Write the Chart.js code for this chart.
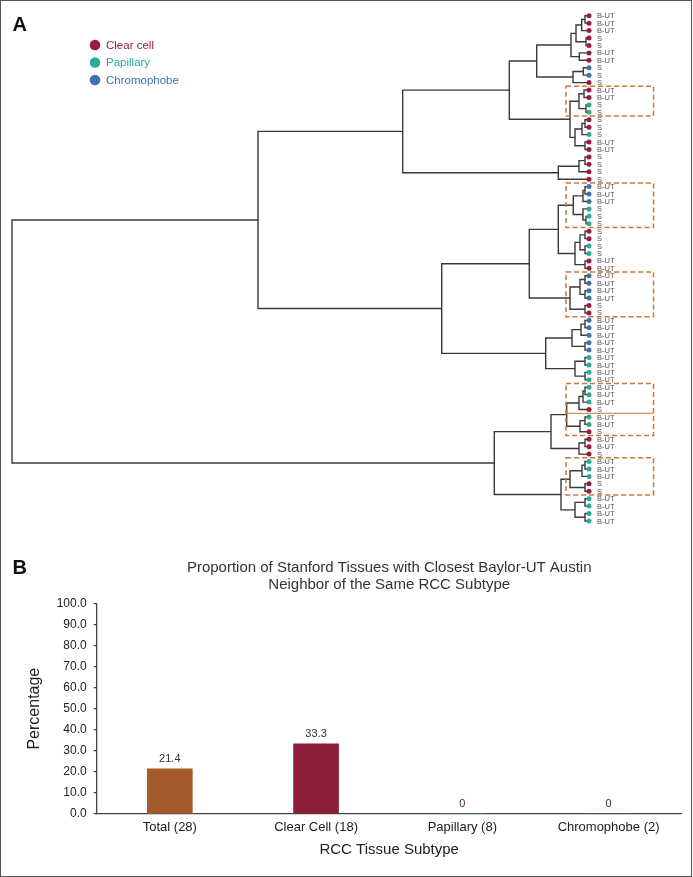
<!DOCTYPE html>
<html>
<head>
<meta charset="utf-8">
<script src="https://cdn.jsdelivr.net/npm/chart.js@4.4.1/dist/chart.umd.min.js"></script>
<style>
  html, body { margin: 0; padding: 0; background: #fff; }
  #wrap { position: relative; width: 693px; height: 877px; overflow: hidden; }
  #dendro { position: absolute; left: 0; top: 0; }
  #bars { position: absolute; left: 0; top: 545px; }
  #frame { position: absolute; left: 0; top: 0; width: 692px; height: 877px; box-sizing: border-box;
           border: 1.5px solid #555; pointer-events: none; }
</style>
</head>
<body>
<div id="wrap">
  <canvas id="dendro" width="693" height="545"></canvas>
  <canvas id="bars" width="693" height="332"></canvas>
  <div id="frame"></div>
</div>
<script>
const FONT = "'Liberation Sans', Arial, Helvetica, sans-serif";
Chart.defaults.font.family = FONT;
Chart.defaults.color = "#333";
Chart.defaults.animation = false;

// ---- panel A: leaves, top to bottom ----
const subtypeNames = ["Clear cell", "Papillary", "Chromophobe"];
const subtypeColors = ["#9b1c3c", "#2bab97", "#3b73ae"];

const leafSite = [
  "B-UT", "B-UT", "B-UT", "S", "S", "B-UT", "B-UT", "S", "S", "S",
  "B-UT", "B-UT", "S", "S", "S", "S", "S", "B-UT", "B-UT", "S",
  "S", "S", "S", "B-UT", "B-UT", "B-UT", "S", "S", "S", "S",
  "S", "S", "S", "B-UT", "B-UT", "B-UT", "B-UT", "B-UT", "B-UT", "S",
  "S", "B-UT", "B-UT", "B-UT", "B-UT", "B-UT", "B-UT", "B-UT", "B-UT", "B-UT",
  "B-UT", "B-UT", "B-UT", "S", "B-UT", "B-UT", "S", "B-UT", "B-UT", "S",
  "B-UT", "B-UT", "B-UT", "S", "S", "B-UT", "B-UT", "B-UT", "B-UT"
];
// 0 = clear cell, 1 = papillary, 2 = chromophobe
const leafType = [
  0, 0, 0, 0, 0, 0, 0, 2, 2, 0,
  0, 0, 1, 1, 0, 0, 1, 0, 0, 0,
  0, 0, 0, 2, 2, 2, 1, 1, 1, 0,
  0, 1, 1, 0, 0, 2, 2, 2, 2, 0,
  0, 2, 2, 2, 2, 2, 1, 1, 1, 1,
  1, 1, 1, 0, 1, 1, 0, 0, 0, 0,
  1, 1, 1, 0, 0, 1, 1, 1, 1
];

// clusters: [height, left, right], numbers are leaf positions (1-based)
const g1to7 = [18, [13, [7.3, [4, 1, 2], 3], [3, 4, 5]], [9.7, 6, 7]];
const g8to10 = [16, [5.7, 8, 9], 10];
const g11to19 = [19, [10, [5, 11, 12], [3, 13, 14]], [14, [7, [4, 15, 16], 17], [4, 18, 19]]];
const g20to23 = [30.7, [10, [4, 20, 21], 22], 23];
const g24to35 = [30.7, [15.7, [6, [4, 24, 25], 26], [6, 27, [3, 28, 29]]],
                       [14, [9, [4, 30, 31], [4, 32, 33]], [4, 34, 35]]];
const g36to41 = [19, [9, [4, 36, 37], [4, 38, 39]], [4, 40, 41]];
const g42to50 = [43.3, [17, [8, [4, 42, 43], 44], [4, 45, 46]], [14, [4, 47, 48], [4, 49, 50]]];
const g51to60 = [38, [22.3, [10, [6, [4, 51, 52], 53], 54], [9, [4, 55, 56], 57]], [10, [4, 58, 59], 60]];
const g61to69 = [28, [19, [7, [4, 61, 62], 63], [4, 64, 65]], [14, [4, 66, 67], [4, 68, 69]]];

const upperBranch = [331, [186.3, [79.7, [52.3, g1to7, g8to10], g11to19], g20to23],
                          [147.3, [59.7, g24to35, g36to41], g42to50]];
const lowerBranch = [94.7, g51to60, g61to69];
const tree = [577, upperBranch, lowerBranch];

// highlighted leaf groups (first, last)
const boxedLeaves = [[11, 14], [24, 29], [36, 41], [51, 57], [61, 65]];
const splitLines = [54.5];

// ---- panel B ----
const subtypeLabels = ["Total (28)", "Clear Cell (18)", "Papillary (8)", "Chromophobe (2)"];
const sameSubtypePct = [21.4, 33.3, 0, 0];
const barColors = ["#a55a2c", "#8e1e3a", "#2bab97", "#3b73ae"];

// build dendrogram links from the tree
const links = [];
function walk(node) {
  if (typeof node === "number") return { h: 0, y: node - 1 };
  const [h, a, b] = node;
  const l = walk(a), r = walk(b);
  links.push([{ x: l.h, y: l.y }, { x: h, y: l.y }, { x: h, y: r.y }, { x: r.h, y: r.y }]);
  return { h: h, y: (l.y + r.y) / 2 };
}
walk(tree);

const leafDots = {
  data: leafSite.map((s, i) => ({ x: 0, y: i })),
  showLine: false,
  pointRadius: 2.5,
  pointBorderWidth: 0,
  pointBackgroundColor: leafType.map(t => subtypeColors[t]),
  clip: false,
};
const linkSets = links.map(pts => ({
  data: pts,
  showLine: true,
  borderColor: "#3a3a3a",
  borderWidth: 1.4,
  pointRadius: 0,
  tension: 0,
  clip: false,
}));

const dendroDecor = {
  id: "dendroDecor",
  afterDatasetsDraw(chart) {
    const { ctx } = chart;
    const xs = chart.scales.x, ys = chart.scales.y;
    ctx.save();
    // leaf labels
    ctx.fillStyle = "#555";
    ctx.font = "7.5px " + FONT;
    ctx.textBaseline = "middle";
    ctx.textAlign = "left";
    leafSite.forEach((s, i) => {
      ctx.fillText(s, xs.getPixelForValue(0) + 8, ys.getPixelForValue(i) + 0.5);
    });
    // boxes
    const bx1 = xs.getPixelForValue(23), bx2 = xs.getPixelForValue(-64.5);
    ctx.strokeStyle = "#d2733b";
    ctx.lineWidth = 1.5;
    ctx.setLineDash([5, 3]);
    boxedLeaves.forEach(([a, b]) => {
      const y1 = ys.getPixelForValue(a - 1.5), y2 = ys.getPixelForValue(b - 0.5);
      ctx.strokeRect(bx1, y1, bx2 - bx1, y2 - y1);
    });
    ctx.setLineDash([]);
    ctx.lineWidth = 1.2;
    splitLines.forEach(v => {
      const y = ys.getPixelForValue(v - 1);
      ctx.beginPath(); ctx.moveTo(bx1, y); ctx.lineTo(bx2, y); ctx.stroke();
    });
    // legend
    ctx.font = "11.5px " + FONT;
    subtypeNames.forEach((n, i) => {
      const y = 45 + i * 17.5;
      ctx.fillStyle = subtypeColors[i];
      ctx.beginPath(); ctx.arc(95, y, 5.3, 0, Math.PI * 2); ctx.fill();
      ctx.fillText(n, 106, y + 0.5);
    });
    // panel letter
    ctx.fillStyle = "#111";
    ctx.font = "bold 20px " + FONT;
    ctx.textBaseline = "alphabetic";
    ctx.fillText("A", 12.5, 31);
    ctx.restore();
  }
};

new Chart(document.getElementById("dendro"), {
  type: "scatter",
  data: { datasets: [leafDots, ...linkSets] },
  options: {
    responsive: false,
    events: [],
    layout: { padding: { left: 12, right: 104, top: 8.3, bottom: 16.6 } },
    scales: {
      x: { type: "linear", reverse: true, min: 0, max: 577, display: false },
      y: { type: "linear", reverse: true, min: -1, max: 69, display: false },
    },
    plugins: { legend: { display: false }, tooltip: { enabled: false } },
  },
  plugins: [dendroDecor],
});

const barDecor = {
  id: "barDecor",
  afterDatasetsDraw(chart) {
    const { ctx } = chart;
    const meta = chart.getDatasetMeta(0);
    ctx.save();
    ctx.fillStyle = "#333";
    ctx.font = "11px " + FONT;
    ctx.textAlign = "center";
    ctx.textBaseline = "alphabetic";
    meta.data.forEach((bar, i) => {
      ctx.fillText(String(sameSubtypePct[i]), bar.x, bar.y - 7);
    });
    ctx.fillStyle = "#111";
    ctx.font = "bold 20px " + FONT;
    ctx.textAlign = "left";
    ctx.fillText("B", 12.5, 29);
    ctx.restore();
  }
};

new Chart(document.getElementById("bars"), {
  type: "bar",
  data: {
    labels: subtypeLabels,
    datasets: [{
      data: sameSubtypePct,
      backgroundColor: barColors,
      borderWidth: 0,
      barThickness: 45,
    }],
  },
  options: {
    responsive: false,
    events: [],
    layout: { padding: { left: 0, right: 11.3, top: 0, bottom: 0 } },
    plugins: {
      legend: { display: false },
      tooltip: { enabled: false },
      title: {
        display: true,
        fullSize: false,
        text: ["Proportion of Stanford Tissues with Closest Baylor-UT Austin",
               "Neighbor of the Same RCC Subtype"],
        font: { size: 15, weight: "normal", lineHeight: 1.133 },
        color: "#333",
        padding: { top: 14, bottom: 10.3 },
      },
    },
    scales: {
      x: {
        grid: { display: false, drawTicks: false },
        border: { display: true, color: "#444", width: 1.3 },
        ticks: { font: { size: 13 }, color: "#222", padding: 6 },
        title: { display: true, text: "RCC Tissue Subtype", font: { size: 15 }, color: "#222",
                 padding: { top: 0, bottom: 18 } },
        afterFit: s => { s.height = 63; },
      },
      y: {
        min: 0, max: 100,
        ticks: { stepSize: 10, callback: v => v.toFixed(1), font: { size: 12 }, color: "#222", padding: 7 },
        grid: { drawOnChartArea: false, drawTicks: true, tickLength: 3, color: "#444", lineWidth: 1.3 },
        border: { display: true, color: "#444", width: 1.3 },
        title: { display: true, text: "Percentage", font: { size: 16 }, color: "#222",
                 padding: { top: 25, bottom: 0 } },
        afterFit: s => { s.width = 96.7; },
      },
    },
  },
  plugins: [barDecor],
});
</script>
</body>
</html>
